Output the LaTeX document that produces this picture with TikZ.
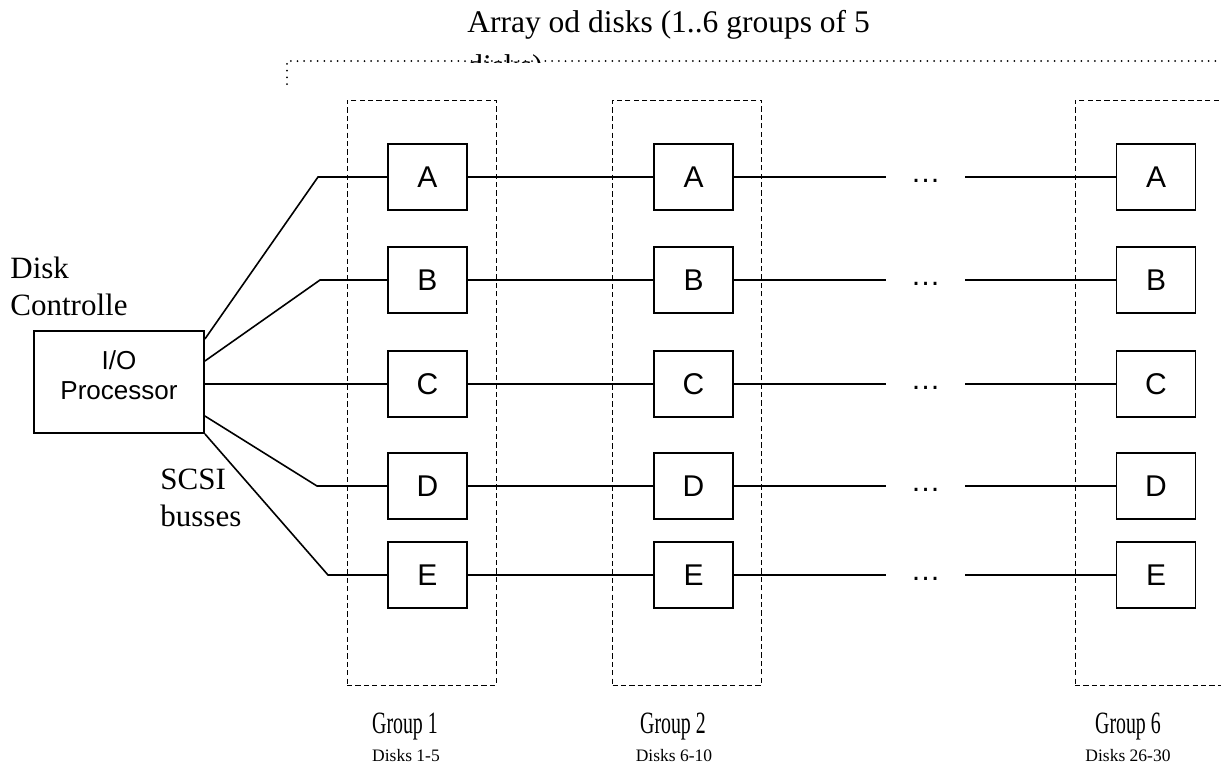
\documentclass[tikz,border=0pt]{standalone}
\usepackage{graphicx}
\usepackage{fontspec}
\setmainfont{Liberation Serif}
\newfontfamily\arialfont{Liberation Sans}
\usetikzlibrary{positioning}

\begin{document}
\begin{tikzpicture}[
  x=0.5pt, y=-0.5pt,
  every node/.style={inner sep=0pt},
  diskbox/.style={draw,line width=0.9pt,minimum width=39.5pt,minimum height=33pt,
                  font=\arialfont\fontsize{15}{18}\selectfont},
  groupbox/.style={draw,line width=0.5pt,dash pattern=on 2.6pt off 1.6pt,
                   minimum width=74.5pt,minimum height=292.5pt},
  dotsnode/.style={minimum width=39.5pt,text height=5pt,text depth=0pt,
                   font=\arialfont\fontsize{15}{18}\selectfont},
  bus/.style={line width=0.8pt},
  dotframe/.style={line width=1pt,line cap=round,dash pattern=on 0pt off 3.35pt},
  lbl/.style={font=\fontsize{15.5}{18.5}\selectfont,align=left,anchor=north west},
  grplbl/.style={font=\fontsize{15.5}{18.5}\selectfont,anchor=base},
  disklbl/.style={font=\fontsize{8.75}{10}\selectfont,anchor=base},
]
  \clip (0,0) rectangle (1221,773);

  % Title and array frame
  \node[font=\fontsize{15.75}{18.5}\selectfont,anchor=base west] (title) at (467,32)
    {Array od disks (1..6 groups of 5};
  \begin{scope}
    \clip (0,0) rectangle (1221,62);
    \node[font=\fontsize{15.75}{18.5}\selectfont,anchor=base west] (title2) at (467,76) {disks)};
  \end{scope}
  \draw[dotframe] (287,84) -- (287,61) -- (1230,61);

  % Groups
  \node[groupbox] (grp1) at (421.5,392.5) {};
  \node[groupbox] (grp2) at (687,392.5) {};
  \node[groupbox] (grp6) at (1149.5,392.5) {};

  % Controller
  \node[draw,line width=0.9pt,minimum width=85pt,minimum height=51pt] (iop) at (119,382) {};
  \node[align=center,font=\arialfont\fontsize{13}{15}\selectfont] (ioptext) at (119,375)
    {I/O\\Processor};
  \node[lbl] (ctrl) at (10,257) {Disk\\Controlle};
  \node[lbl] (scsi) at (160,469) {SCSI\\busses};

  % Disks
  \node[diskbox] (A1) at (427.5,177) {A};
  \node[diskbox] (A2) at (693.5,177) {A};
  \node[dotsnode] (dA) at (925.5,177) {…};
  \node[diskbox] (A6) at (1156,177) {A};

  \node[diskbox] (B1) at (427.5,280) {B};
  \node[diskbox] (B2) at (693.5,280) {B};
  \node[dotsnode] (dB) at (925.5,280) {…};
  \node[diskbox] (B6) at (1156,280) {B};

  \node[diskbox] (C1) at (427.5,384) {C};
  \node[diskbox] (C2) at (693.5,384) {C};
  \node[dotsnode] (dC) at (925.5,384) {…};
  \node[diskbox] (C6) at (1156,384) {C};

  \node[diskbox] (D1) at (427.5,486) {D};
  \node[diskbox] (D2) at (693.5,486) {D};
  \node[dotsnode] (dD) at (925.5,486) {…};
  \node[diskbox] (D6) at (1156,486) {D};

  \node[diskbox] (E1) at (427.5,575) {E};
  \node[diskbox] (E2) at (693.5,575) {E};
  \node[dotsnode] (dE) at (925.5,575) {…};
  \node[diskbox] (E6) at (1156,575) {E};

  % SCSI busses
  \coordinate (bA) at (318,177);
  \coordinate (bB) at (320,280);
  \coordinate (bD) at (317,486);
  \coordinate (bE) at (328,575);
  \draw[bus] ([yshift=21.5pt]iop.east) -- (bA) -- (A1);
  \draw[bus] ([yshift=10.5pt]iop.east) -- (bB) -- (B1);
  \draw[bus] (iop.east |- C1) -- (C1);
  \draw[bus] ([yshift=-17pt]iop.east) -- (bD) -- (D1);
  \draw[bus] (iop.south east) -- (bE) -- (E1);

  \foreach \r in {A,B,C,D,E} {
    \draw[bus] (\r1) -- (\r2);
    \draw[bus] (\r2) -- (d\r);
    \draw[bus] (d\r) -- (\r6);
  }

  % Group labels
  \node[grplbl] (g1lbl) at (405,733) {\scalebox{0.64}[1]{Group 1}};
  \node[grplbl] (g2lbl) at (673,733) {\scalebox{0.64}[1]{Group 2}};
  \node[grplbl] (g6lbl) at (1128,733) {\scalebox{0.64}[1]{Group 6}};
  \node[disklbl] (d1lbl) at (406,761) {Disks 1-5};
  \node[disklbl] (d2lbl) at (674,761) {Disks 6-10};
  \node[disklbl] (d6lbl) at (1128,761) {Disks 26-30};
\end{tikzpicture}
\end{document}
